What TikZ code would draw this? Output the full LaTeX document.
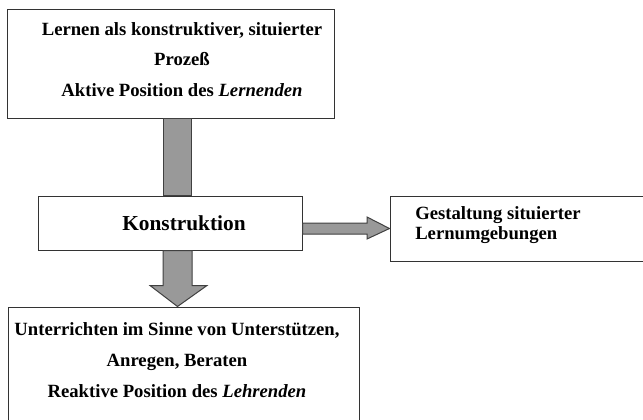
\documentclass[tikz,border=0pt]{standalone}
\usepackage{fontspec}
\setmainfont{Liberation Serif}
\usetikzlibrary{calc}

\begin{document}
\begin{tikzpicture}[x=0.75pt,y=-0.75pt,
  box/.style={rectangle,draw=black!80,line width=0.75pt,fill=white,inner sep=0pt},
  blockarrow/.style={draw=black!75,line width=0.75pt,fill=black!40,line join=miter},
  txt/.style={inner sep=0pt,align=center,font=\fontsize{14}{23}\selectfont\bfseries}]
\useasboundingbox (0,0) rectangle (643,419);
\clip (0,0) rectangle (643,419);

\path (170.5,63.5) node[box,minimum width=245.25pt,minimum height=81.75pt] (top) {};
\path (170,223) node[box,minimum width=198pt,minimum height=40.5pt] (kon) {};
\path (545,228.5) node[box,minimum width=232.5pt,minimum height=48.75pt] (rt) {};
\path (183.5,378.5) node[box,minimum width=263.25pt,minimum height=107.25pt] (bot) {};

\path (182,59.5) node[txt] (toptxt) {Lernen als konstruktiver, situierter\\Prozeß\\Aktive Position des \textit{Lernenden}};
\path (184,223) node[txt,font=\fontsize{16}{19}\selectfont\bfseries] (kontxt) {Konstruktion};
\path (415,225) node[txt,anchor=west,align=left,font=\fontsize{14}{15}\selectfont\bfseries] (rttxt) {Gestaltung situierter\\Lernumgebungen};
\path (177,360) node[txt] (bottxt) {Unterrichten im Sinne von Unterstützen,\\Anregen, Beraten\\Reaktive Position des \textit{Lehrenden}};

\draw[blockarrow] ($(top.south)+(-7.5,0)$) rectangle ($(kon.north)+(21,0)$);
\draw[blockarrow] ($(kon.south)+(-7,0)$) -- ($(kon.south)+(-7,35)$) -- ($(kon.south)+(-20,35)$)
  -- ($(bot.north)+(-6,0)$) -- ($(kon.south)+(37,35)$) -- ($(kon.south)+(22,35)$) -- ($(kon.south)+(22,0)$) -- cycle;
\draw[blockarrow] (kon.east) -- ($(kon.east)+(64.5,0)$) -- ($(kon.east)+(64.5,-6)$) -- (rt.west)
  -- ($(kon.east)+(64.5,16)$) -- ($(kon.east)+(64.5,11)$) -- ($(kon.east)+(0,11)$) -- cycle;
\end{tikzpicture}
\end{document}
